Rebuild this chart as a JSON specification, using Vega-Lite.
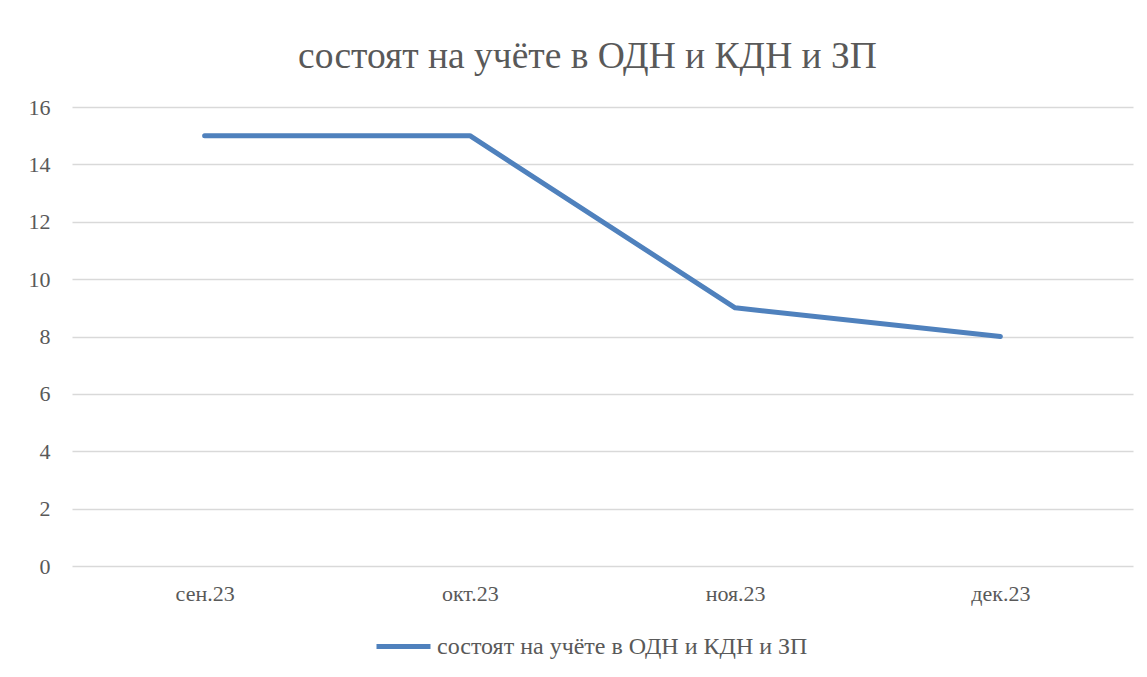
{
  "$schema": "https://vega.github.io/schema/vega-lite/v6.json",
  "autosize": {"type": "none"},
  "width": 1061,
  "height": 459,
  "padding": {"left": 72, "top": 107, "right": 14, "bottom": 111},
  "background": "white",
  "title": {
    "text": "состоят на учёте в ОДН и КДН и ЗП",
    "font": "Liberation Serif",
    "fontSize": 37.5,
    "fontWeight": "normal",
    "color": "#595959",
    "anchor": "middle",
    "offset": 21,
    "dx": -15
  },
  "data": {
    "values": [
      {"month": "сен.23", "value": 15, "series": "состоят на учёте в ОДН и КДН и ЗП"},
      {"month": "окт.23", "value": 15, "series": "состоят на учёте в ОДН и КДН и ЗП"},
      {"month": "ноя.23", "value": 9, "series": "состоят на учёте в ОДН и КДН и ЗП"},
      {"month": "дек.23", "value": 8, "series": "состоят на учёте в ОДН и КДН и ЗП"}
    ]
  },
  "mark": {"type": "line", "strokeWidth": 5, "strokeCap": "round", "strokeJoin": "round"},
  "encoding": {
    "x": {
      "field": "month",
      "type": "nominal",
      "sort": null,
      "scale": {"type": "point", "padding": 0.5},
      "axis": {
        "title": null,
        "labelAngle": 0,
        "labelFont": "Liberation Serif",
        "labelFontSize": 22,
        "labelColor": "#595959",
        "labelPadding": 17,
        "ticks": false,
        "domain": false,
        "grid": false
      }
    },
    "y": {
      "field": "value",
      "type": "quantitative",
      "scale": {"domain": [0, 16]},
      "axis": {
        "title": null,
        "values": [0, 2, 4, 6, 8, 10, 12, 14, 16],
        "labelFont": "Liberation Serif",
        "labelFontSize": 22,
        "labelColor": "#595959",
        "labelPadding": 22,
        "ticks": false,
        "domain": false,
        "grid": true,
        "gridColor": "#d9d9d9",
        "gridWidth": 1.5
      }
    },
    "color": {
      "field": "series",
      "type": "nominal",
      "scale": {"range": ["#4f81bd"]},
      "legend": {
        "title": null,
        "orient": "none",
        "legendX": 302,
        "legendY": 510,
        "symbolType": "stroke",
        "symbolSize": 2916,
        "symbolStrokeWidth": 5,
        "labelFont": "Liberation Serif",
        "labelFontSize": 24,
        "labelColor": "#595959",
        "labelOffset": 4,
        "labelLimit": 500
      }
    }
  },
  "config": {"view": {"stroke": null}}
}
